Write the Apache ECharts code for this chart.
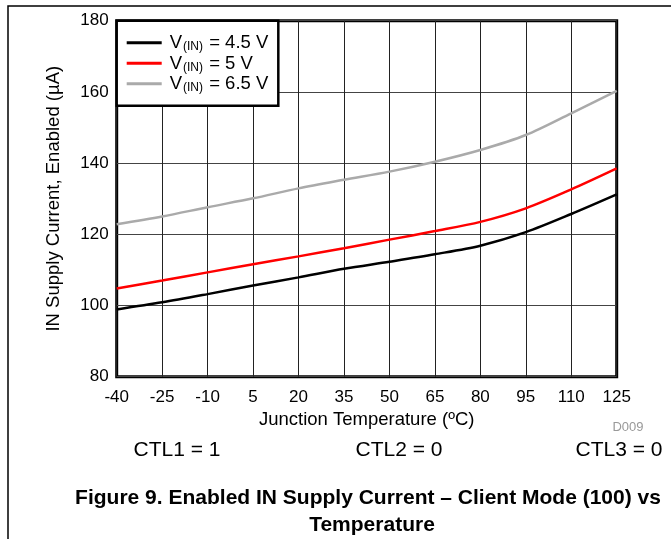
<!DOCTYPE html>
<html>
<head>
<meta charset="utf-8">
<script src="https://cdn.jsdelivr.net/npm/echarts@6/dist/echarts.min.js"></script>
<style>
  html, body { margin: 0; padding: 0; background: #fff; }
  #chart { width: 671px; height: 539px; }
</style>
</head>
<body>
<div id="chart"></div>
<script>
// Junction temperature (ºC)
const temps = [-40, -25, -10, 5, 20, 35, 50, 65, 80, 95, 110, 125];
// IN supply current, enabled (µA)
const vin45 = [98.9, 100.9, 103.2, 105.6, 107.9, 110.3, 112.3, 114.4, 116.8, 120.6, 125.7, 131.2];
const vin50 = [104.8, 107.0, 109.3, 111.6, 113.8, 116.1, 118.5, 120.9, 123.5, 127.3, 132.6, 138.5];
const vin65 = [122.8, 125.0, 127.6, 130.1, 132.9, 135.3, 137.6, 140.4, 143.7, 147.9, 154.0, 160.3];
const seriesNames = ['4.5 V', '5 V', '6.5 V'];

var chartDom = document.getElementById('chart');
var myChart = echarts.init(chartDom);

const font = 'Liberation Sans, Arial, sans-serif';
const pairs = arr => temps.map((t, i) => [t, arr[i]]);

var option = {
    animation: false,
    textStyle: { fontFamily: font },
    grid: {
        left: 116.7, right: 54.3, top: 20.7, bottom: 162.3,
        show: true, borderColor: '#000', borderWidth: 3
    },
    xAxis: {
        type: 'value',
        min: -40, max: 125, interval: 15,
        name: 'Junction Temperature (ºC)',
        nameLocation: 'middle',
        nameGap: 31,
        nameTextStyle: { fontSize: 18.5, color: '#000', fontFamily: font },
        axisLine: { show: false },
        axisTick: { show: false },
        axisLabel: { fontSize: 17, color: '#000', margin: 12, fontFamily: font },
        splitLine: { lineStyle: { color: '#222', width: 1 } }
    },
    yAxis: {
        type: 'value',
        min: 80, max: 180, interval: 20,
        name: 'IN Supply Current, Enabled (µA)',
        nameLocation: 'middle',
        nameGap: 53,
        nameTextStyle: { fontSize: 18.5, color: '#000', fontFamily: font },
        axisLine: { show: false },
        axisTick: { show: false },
        axisLabel: { fontSize: 17, color: '#000', margin: 8, fontFamily: font },
        splitLine: { lineStyle: { color: '#444', width: 1 } }
    },
    legend: {
        orient: 'vertical',
        left: 116.7, top: 20.7,
        backgroundColor: '#fff',
        borderColor: '#000',
        borderWidth: 2.5,
        padding: [13, 10, 12, 10],
        icon: 'rect',
        itemWidth: 35,
        itemHeight: 3,
        itemGap: 1.5,
        formatter: function (name) {
            return '{v|V}{s|(IN)}{a| = ' + name + '}';
        },
        textStyle: {
            rich: {
                v: { fontSize: 18.5, color: '#000', fontFamily: font, verticalAlign: 'bottom', lineHeight: 20, padding: [0, 0, 0, 3] },
                a: { fontSize: 18.5, color: '#000', fontFamily: font, verticalAlign: 'bottom', lineHeight: 20 },
                s: { fontSize: 12, color: '#000', fontFamily: font, verticalAlign: 'bottom', lineHeight: 14, padding: [0, 1, 0, 1] }
            }
        },
        data: seriesNames
    },
    series: [
        {
            name: seriesNames[0], type: 'line', data: pairs(vin45),
            smooth: 0.3, symbol: 'none',
            lineStyle: { color: '#000', width: 2.5 }, itemStyle: { color: '#000' }
        },
        {
            name: seriesNames[1], type: 'line', data: pairs(vin50),
            smooth: 0.3, symbol: 'none',
            lineStyle: { color: '#ff0000', width: 2.5 }, itemStyle: { color: '#ff0000' }
        },
        {
            name: seriesNames[2], type: 'line', data: pairs(vin65),
            smooth: 0.3, symbol: 'none',
            lineStyle: { color: '#aaaaaa', width: 2.5 }, itemStyle: { color: '#aaaaaa' }
        }
    ],
    graphic: [
        // page frame
        { type: 'polyline', shape: { points: [[8, 539], [8, 6], [671, 6]] },
          style: { stroke: '#000', lineWidth: 1.5, fill: null } },
        { type: 'text', x: 628, y: 427, style: { text: 'D009', font: '13px ' + font, fill: '#999', align: 'center', verticalAlign: 'middle' } },
        { type: 'text', x: 177, y: 450, style: { text: 'CTL1 = 1', font: '21px ' + font, fill: '#000', align: 'center', verticalAlign: 'middle' } },
        { type: 'text', x: 399, y: 450, style: { text: 'CTL2 = 0', font: '21px ' + font, fill: '#000', align: 'center', verticalAlign: 'middle' } },
        { type: 'text', x: 619, y: 450, style: { text: 'CTL3 = 0', font: '21px ' + font, fill: '#000', align: 'center', verticalAlign: 'middle' } },
        { type: 'text', x: 368, y: 498, style: { text: 'Figure 9. Enabled IN Supply Current \u2013 Client Mode (100) vs', font: 'bold 21px ' + font, fill: '#000', align: 'center', verticalAlign: 'middle' } },
        { type: 'text', x: 372, y: 525, style: { text: 'Temperature', font: 'bold 21px ' + font, fill: '#000', align: 'center', verticalAlign: 'middle' } }
    ]
};

myChart.setOption(option);
window.addEventListener('resize', () => myChart.resize());
</script>
</body>
</html>
